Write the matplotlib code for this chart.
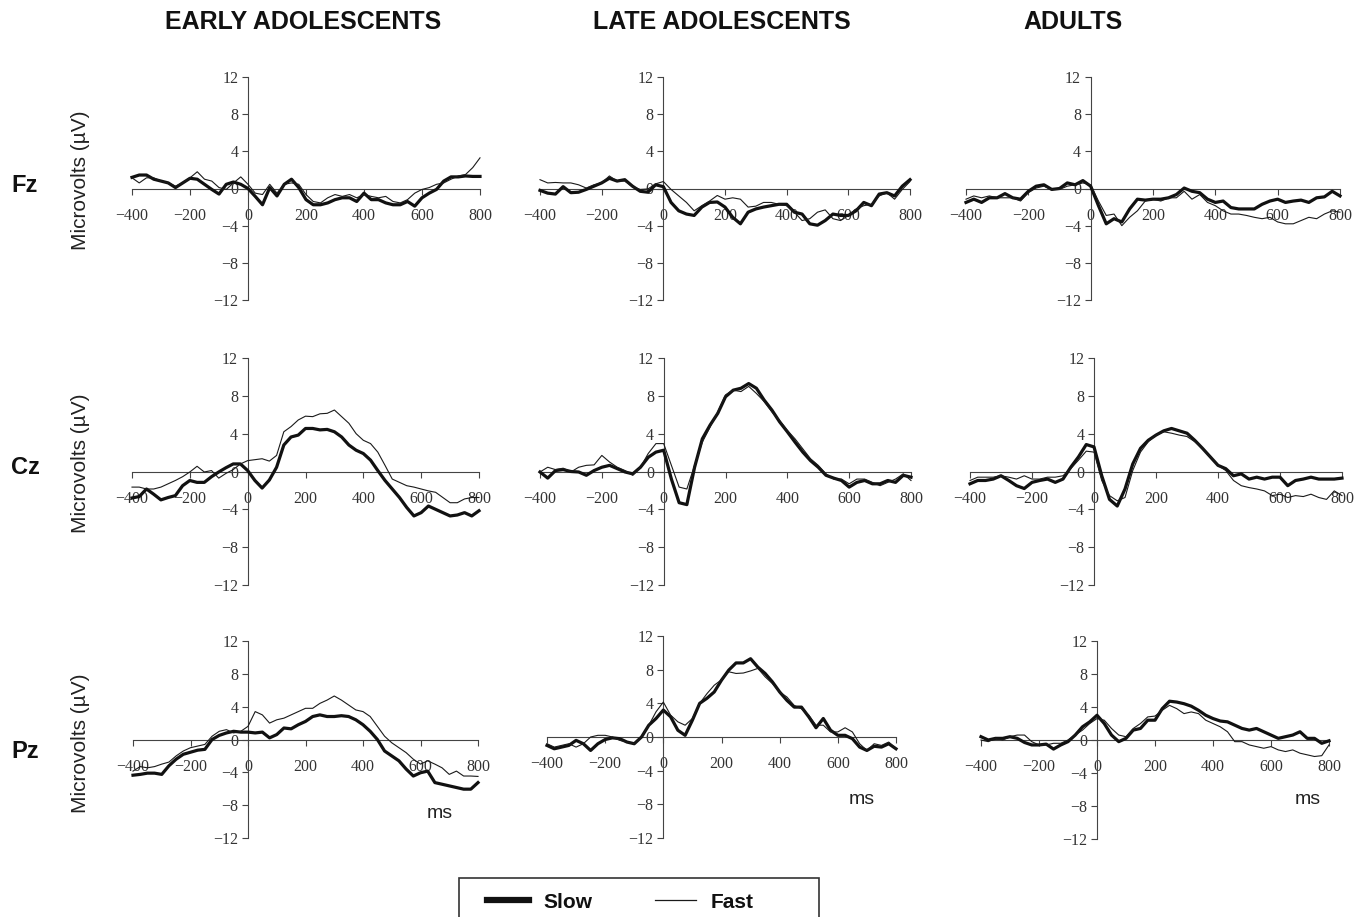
import numpy as np
import matplotlib
matplotlib.use("Agg")
import matplotlib.pyplot as plt
from matplotlib.patches import Rectangle

plt.rcParams['font.family'] = ['Liberation Serif', 'DejaVu Serif']

W, H = 1367, 917

def fx(x):
    return x / W

def fy(y):
    return 1 - y / H

groups = ['EARLY ADOLESCENTS', 'LATE ADOLESCENTS', 'ADULTS']
sites = ['Fz', 'Cz', 'Pz']
times = np.arange(-400, 801, 25)

# ---- Fz ----
ea_fz_slow = [1.2, 1.45, 1.45, 1.0, 0.8, 0.6, 0.1, 0.6, 1.1, 1.0, 0.45, -0.1, -0.6, 0.45, 0.7, 0.45, 0.0,
              -0.85, -1.75, 0.1, -0.8, 0.45, 1.0, 0.1, -1.2, -1.75, -1.75, -1.55, -1.2, -1.0, -1.0, -1.4, -0.5,
              -1.2, -1.2, -1.55, -1.75, -1.75, -1.4, -1.9, -1.0, -0.5, -0.1, 0.8, 1.25, 1.25, 1.35, 1.3, 1.3]
ea_fz_fast = [1.15, 0.6, 1.15, 1.15, 0.8, 0.6, 0.25, 0.6, 1.15, 1.8, 1.0, 0.8, 0.1, -0.1, 0.6, 1.25, 0.45,
              -0.5, -0.65, 0.45, -0.5, 0.45, 0.6, 0.45, -0.65, -1.4, -1.55, -1.0, -0.65, -0.85, -0.65, -1.0, -0.65,
              -0.85, -1.0, -0.85, -1.4, -1.55, -1.2, -0.5, -0.1, 0.1, 0.45, 0.6, 1.0, 1.35, 1.5, 2.25, 3.3]
la_fz_slow = [-0.2, -0.5, -0.6, 0.2, -0.45, -0.4, -0.1, 0.25, 0.6, 1.1, 0.8, 0.95, 0.25, -0.3, -0.4, 0.4, 0.2,
              -1.5, -2.4, -2.75, -2.9, -2.0, -1.5, -1.45, -2.0, -3.1, -3.8, -2.55, -2.2, -2.0, -1.85, -1.7, -1.7,
              -2.55, -2.75, -3.8, -3.95, -3.45, -2.75, -2.9, -2.9, -2.4, -1.5, -1.85, -0.6, -0.45, -0.8, 0.25, 0.95]
la_fz_fast = [0.95, 0.6, 0.65, 0.6, 0.6, 0.4, 0.05, 0.4, 0.6, 1.35, 0.8, 0.8, 0.2, -0.1, -0.05, 0.5, 0.75,
              -0.1, -0.8, -1.5, -2.4, -1.85, -1.35, -0.75, -1.15, -1.0, -1.15, -2.0, -1.9, -1.5, -1.5, -1.7, -1.85,
              -2.55, -3.45, -3.25, -2.55, -2.3, -3.25, -3.45, -2.9, -2.2, -1.85, -1.7, -0.8, -0.45, -1.15, -0.1, 0.75]
ad_fz_slow = [-1.5, -1.15, -1.5, -1.0, -1.0, -0.55, -1.0, -1.15, -0.3, 0.25, 0.4, -0.1, 0.0, 0.6, 0.4, 0.85, 0.25,
              -1.85, -3.8, -3.25, -3.6, -2.2, -1.15, -1.25, -1.15, -1.15, -1.0, -0.65, 0.05, -0.3, -0.45, -1.15, -1.5,
              -1.35, -2.05, -2.2, -2.2, -2.2, -1.7, -1.35, -1.15, -1.5, -1.35, -1.25, -1.5, -1.0, -0.9, -0.3, -0.8]
ad_fz_fast = [-1.15, -0.8, -1.0, -0.8, -1.0, -1.0, -1.0, -1.35, -0.45, 0.05, 0.25, -0.1, -0.1, 0.25, 0.4, 0.6, 0.4,
              -1.35, -2.9, -2.75, -4.0, -3.1, -2.4, -1.35, -1.15, -1.35, -1.0, -1.0, -0.3, -1.15, -0.65, -1.5, -1.85,
              -2.4, -2.75, -2.75, -2.9, -3.1, -3.25, -3.1, -3.6, -3.8, -3.8, -3.45, -3.1, -3.25, -2.75, -2.4, -2.55]

# ---- Cz ----
ea_cz_slow = [-2.8, -2.65, -1.85, -2.4, -3.0, -2.75, -2.55, -1.5, -0.95, -1.15, -1.15, -0.55, -0.05, 0.4, 0.8, 0.8, 0.1,
              -0.95, -1.75, -0.9, 0.45, 2.8, 3.65, 3.85, 4.55, 4.55, 4.4, 4.45, 4.2, 3.65, 2.8, 2.25, 1.9,
              1.2, 0.1, -0.95, -1.85, -2.75, -3.8, -4.7, -4.35, -3.65, -4.0, -4.35, -4.7, -4.6, -4.35, -4.7, -4.15]
ea_cz_fast = [-1.65, -1.65, -1.85, -1.85, -1.65, -1.3, -0.95, -0.55, -0.05, 0.55, -0.05, 0.1, -0.7, -0.2, 0.2, 0.8, 1.15,
              1.25, 1.35, 1.1, 1.7, 4.2, 4.75, 5.45, 5.85, 5.8, 6.1, 6.15, 6.5, 5.8, 5.1, 4.0, 3.3,
              2.95, 2.05, 0.65, -0.8, -1.15, -1.5, -1.65, -1.85, -2.05, -2.2, -2.75, -3.3, -3.3, -2.9, -2.75, -2.75]
la_cz_slow = [-0.05, -0.7, 0.1, 0.2, 0.0, -0.05, -0.4, 0.1, 0.45, 0.65, 0.3, -0.05, -0.25, 0.45, 1.5, 2.05, 2.25,
              -0.8, -3.3, -3.5, 0.45, 3.45, 4.9, 6.15, 7.9, 8.6, 8.8, 9.3, 8.8, 7.55, 6.5, 5.25, 4.2,
              3.1, 2.05, 1.15, 0.45, -0.4, -0.7, -0.95, -1.65, -1.15, -0.95, -1.3, -1.3, -0.95, -1.15, -0.4, -0.6]
la_cz_fast = [-0.05, 0.45, 0.2, 0.35, -0.05, 0.45, 0.65, 0.7, 1.7, 1.0, 0.45, 0.1, -0.4, 0.45, 1.9, 2.95, 2.95,
              0.65, -1.65, -1.85, 0.65, 3.1, 4.7, 6.3, 8.1, 8.6, 8.45, 9.0, 8.25, 7.4, 6.3, 5.4, 4.35,
              3.45, 2.4, 1.35, 0.65, -0.25, -0.8, -0.8, -1.3, -0.8, -0.8, -1.15, -1.5, -1.15, -0.8, -0.25, -0.95]
ad_cz_slow = [-1.3, -0.95, -0.95, -0.8, -0.45, -0.95, -1.5, -1.8, -1.15, -0.95, -0.8, -1.15, -0.8, 0.45, 1.55, 2.85, 2.6,
              -0.45, -2.95, -3.65, -1.85, 0.8, 2.45, 3.3, 3.85, 4.3, 4.55, 4.3, 4.05, 3.3, 2.45, 1.55, 0.65,
              0.3, -0.45, -0.25, -0.8, -0.6, -0.8, -0.6, -0.6, -1.5, -0.95, -0.8, -0.6, -0.8, -0.8, -0.8, -0.7]
ad_cz_fast = [-0.95, -0.6, -0.6, -0.6, -0.45, -0.6, -0.8, -0.45, -0.8, -0.8, -0.6, -0.6, -0.45, 0.3, 1.2, 2.15, 2.05,
              -0.95, -2.55, -3.1, -2.75, 0.1, 2.05, 3.15, 3.85, 4.2, 4.05, 3.85, 3.7, 3.15, 2.45, 1.55, 0.65,
              0.1, -0.95, -1.5, -1.7, -1.85, -2.05, -2.55, -2.4, -2.75, -2.55, -2.65, -2.4, -2.75, -2.95, -2.05, -2.55]

# ---- Pz ----
ea_pz_slow = [-4.35, -4.25, -4.1, -4.1, -4.25, -3.2, -2.4, -1.8, -1.55, -1.3, -1.2, 0.0, 0.5, 0.8, 1.0, 0.9, 0.9,
              0.8, 0.9, 0.2, 0.6, 1.4, 1.3, 1.8, 2.2, 2.8, 3.0, 2.8, 2.8, 2.9, 2.8, 2.4, 1.8,
              1.0, 0.0, -1.4, -2.0, -2.6, -3.6, -4.45, -4.05, -3.85, -5.25, -5.45, -5.65, -5.85, -6.05, -6.05, -5.25]
ea_pz_fast = [-3.85, -3.3, -3.45, -3.3, -3.0, -2.75, -2.0, -1.4, -1.0, -0.8, -0.6, 0.4, 1.0, 1.2, 0.8, 1.0, 1.6,
              3.4, 3.0, 2.0, 2.4, 2.6, 3.0, 3.4, 3.8, 3.8, 4.4, 4.8, 5.3, 4.8, 4.2, 3.6, 3.4,
              2.8, 1.6, 0.4, -0.4, -1.0, -1.6, -2.4, -3.0, -2.6, -3.0, -3.45, -4.25, -3.85, -4.45, -4.45, -4.5]
la_pz_slow = [-1.0, -1.4, -1.2, -1.0, -0.4, -0.8, -1.6, -0.8, -0.3, -0.1, -0.2, -0.6, -0.8, 0.0, 1.4, 2.2, 3.2,
              2.4, 0.8, 0.2, 2.0, 4.0, 4.6, 5.35, 6.75, 7.95, 8.8, 8.8, 9.3, 8.3, 7.55, 6.55, 5.35,
              4.35, 3.55, 3.55, 2.4, 1.1, 2.2, 0.8, 0.2, 0.2, -0.2, -1.2, -1.6, -1.1, -1.2, -0.8, -1.4]
la_pz_fast = [-0.8, -1.2, -1.0, -0.8, -1.2, -0.8, 0.0, 0.2, 0.2, 0.0, -0.4, -0.6, -0.8, 0.0, 1.4, 3.0, 4.15,
              2.6, 1.8, 1.4, 2.2, 4.0, 5.15, 6.15, 6.8, 7.75, 7.55, 7.6, 7.85, 8.15, 7.15, 6.35, 5.35,
              4.75, 3.75, 3.35, 2.6, 1.4, 1.4, 0.6, 0.6, 1.1, 0.6, -0.8, -1.6, -0.8, -1.0, -0.6, -1.4]
ad_pz_slow = [0.4, 0.0, 0.2, 0.2, 0.4, 0.2, -0.3, -0.6, -0.6, -0.5, -1.1, -0.6, -0.2, 0.6, 1.6, 2.2, 3.0,
              2.0, 0.6, -0.2, 0.2, 1.2, 1.4, 2.4, 2.4, 3.8, 4.7, 4.6, 4.4, 4.1, 3.6, 3.0, 2.6,
              2.3, 2.2, 1.8, 1.4, 1.2, 1.4, 1.0, 0.6, 0.2, 0.4, 0.6, 1.0, 0.2, 0.2, -0.4, -0.1]
ad_pz_fast = [0.0, -0.2, 0.2, 0.0, 0.4, 0.6, 0.6, -0.2, -0.6, -0.6, -0.4, -0.4, 0.0, 0.6, 1.2, 2.0, 2.6,
              2.4, 1.4, 0.6, 0.4, 1.4, 2.0, 2.8, 2.9, 3.6, 4.2, 3.8, 3.2, 3.4, 3.2, 2.4, 2.0,
              1.6, 1.0, -0.2, -0.2, -0.6, -0.8, -1.0, -0.8, -1.2, -1.4, -1.2, -1.6, -1.8, -2.0, -1.9, -0.6]

panels = [
    [(ea_fz_slow, ea_fz_fast), (la_fz_slow, la_fz_fast), (ad_fz_slow, ad_fz_fast)],
    [(ea_cz_slow, ea_cz_fast), (la_cz_slow, la_cz_fast), (ad_cz_slow, ad_cz_fast)],
    [(ea_pz_slow, ea_pz_fast), (la_pz_slow, la_pz_fast), (ad_pz_slow, ad_pz_fast)],
]

# pixel boxes (x at -400, x at 800, y at 12, y at -12)
boxes = [
    [(132, 480, 77, 300), (540, 910, 77, 300), (966, 1340, 77, 300)],
    [(132, 479, 358, 585), (540, 911, 358, 585), (970, 1342, 358, 585)],
    [(133, 478, 641, 838), (547, 896, 636, 838), (981, 1329, 641, 839)],
]

fig = plt.figure(figsize=(13.67, 9.17), dpi=100)
axis_col = '#444444'

for r in range(3):
    for c in range(3):
        x0, x1, y0, y1 = boxes[r][c]
        ax = fig.add_axes([fx(x0), fy(y1), (x1 - x0) / W, (y1 - y0) / H])
        ax.patch.set_alpha(0)
        slow, fast = panels[r][c]
        l_slow, = ax.plot(times, slow, color='#111111', lw=2.3, zorder=3, clip_on=False,
                          solid_joinstyle='round', label='Slow')
        l_fast, = ax.plot(times, fast, color='#1a1a1a', lw=0.8, zorder=3, clip_on=False, label='Fast')
        ax.set_xlim(-400, 800)
        ax.set_ylim(-12, 12)
        ax.spines['left'].set_position(('data', 0))
        ax.spines['bottom'].set_position(('data', 0))
        ax.spines['top'].set_visible(False)
        ax.spines['right'].set_visible(False)
        for s in ('left', 'bottom'):
            ax.spines[s].set_color(axis_col)
            ax.spines[s].set_linewidth(0.8)
        ax.set_xticks(range(-400, 801, 200))
        ax.set_yticks(range(-12, 13, 4))
        ax.tick_params(axis='both', direction='out', length=4, width=0.8, color=axis_col,
                       labelsize=11.5, labelcolor='#333333')
        ax.tick_params(axis='x', pad=10)
        ax.tick_params(axis='y', pad=3)

sans = 'Liberation Sans'

for title, x in zip(groups, [303, 722, 1073]):
    fig.text(fx(x), fy(22), title, ha='center', va='center', family=sans,
             weight='bold', size=18, color='#111111')

for site, y in zip(sites, [186, 467, 751]):
    fig.text(fx(25), fy(y), site, ha='center', va='center', family=sans,
             weight='bold', size=17, color='#111111')

for y in [180, 463, 743]:
    fig.text(fx(80), fy(y), 'Microvolts (µV)', rotation=90, ha='center', va='center',
             family=sans, size=15, color='#222222')

for x, y in [(440, 813), (862, 800), (1308, 800)]:
    fig.text(fx(x), fy(y), 'ms', ha='center', va='center', family=sans, size=14, color='#222222')

leg = fig.legend(handles=[l_slow, l_fast], labels=['Slow', 'Fast'], loc='center left',
                 bbox_to_anchor=(fx(487), fy(902)), ncol=2, frameon=False,
                 prop={'family': sans, 'weight': 'bold', 'size': 15},
                 handlelength=2, handletextpad=0.7, columnspacing=3.0,
                 borderpad=0, borderaxespad=0)
leg.legend_handles[0].set_linewidth(4.5)
leg.legend_handles[1].set_linewidth(0.9)
for t in leg.get_texts():
    t.set_color('#111111')

fig.add_artist(Rectangle((fx(459), fy(935)), (819 - 459) / W, (935 - 878) / H,
                         transform=fig.transFigure, fill=False, lw=1.2, edgecolor='#333333'))

fig.savefig('out.png', dpi=100)
